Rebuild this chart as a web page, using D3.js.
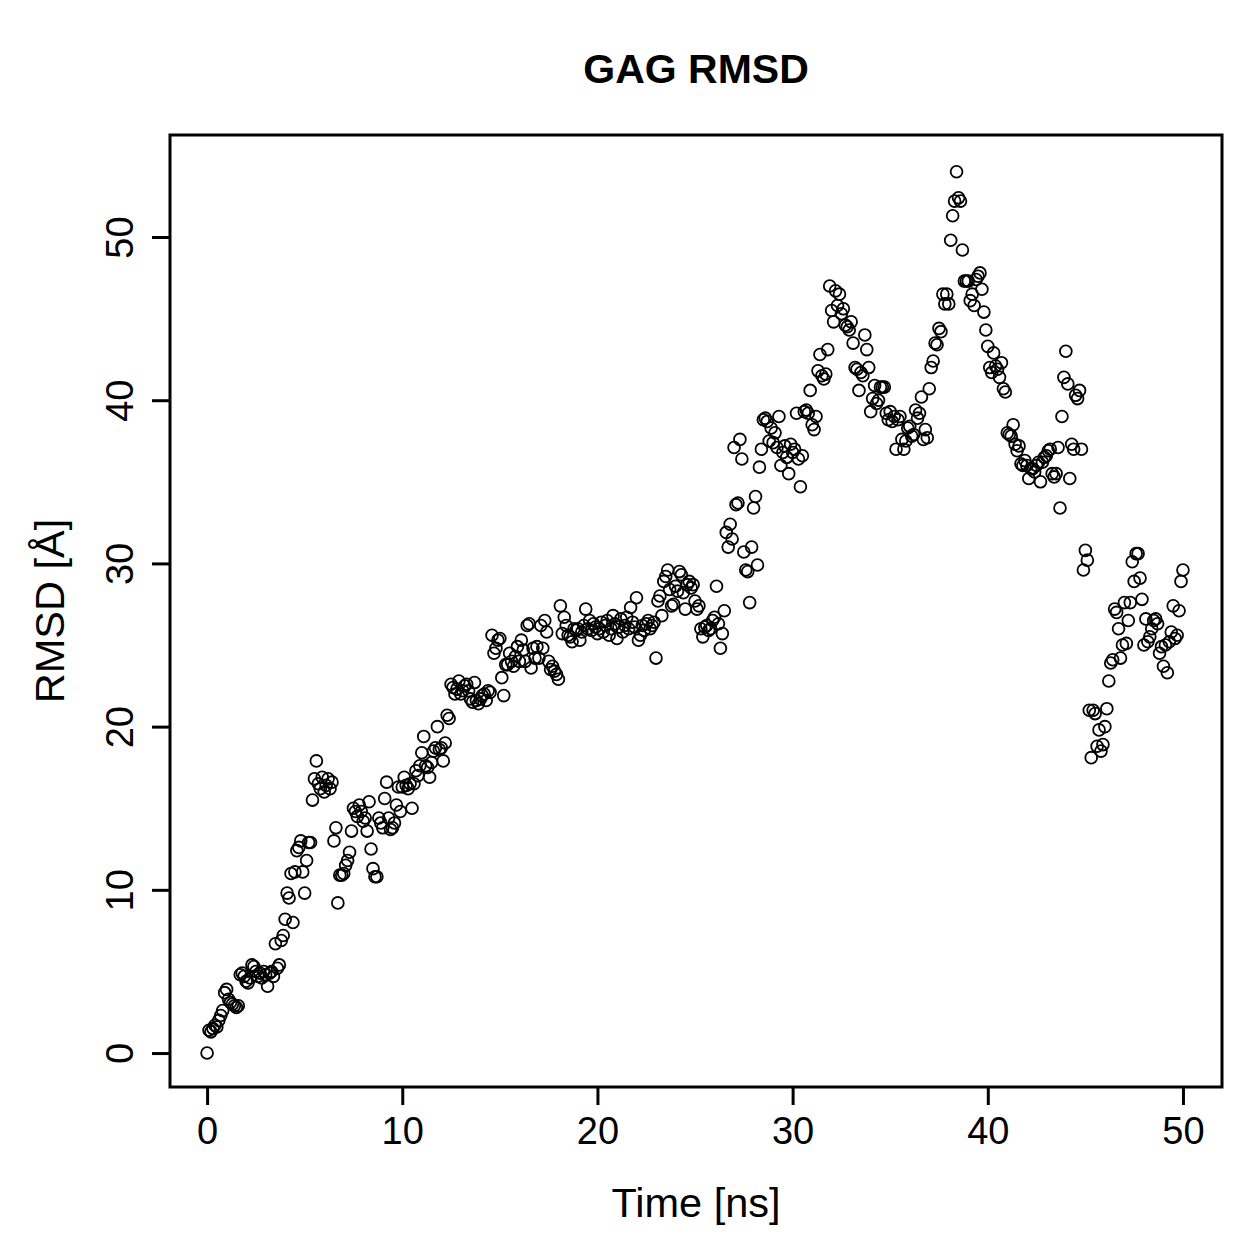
<!DOCTYPE html>
<html>
<head>
<meta charset="utf-8">
<script src="https://cdn.jsdelivr.net/npm/d3@7"></script>
<style>
  html, body { margin: 0; padding: 0; background: #fff; }
  svg { display: block; font-family: "Liberation Sans", Arial, Helvetica, sans-serif; }
</style>
</head>
<body>
<svg id="chart" width="1259" height="1259"></svg>
<script>
// ---- data ----
const title = "GAG RMSD";
const xLabel = "Time [ns]";
const yLabel = "RMSD [Å]";
const xTicks = [0, 10, 20, 30, 40, 50];
const yTicks = [0, 10, 20, 30, 40, 50];
const timeStep = 0.1; // ns between frames
// RMSD values (Å), one per frame, 0.0 .. 50.0 ns
const rmsd = [
  0.0, 1.4, 1.3, 1.5, 1.7, 1.6, 2.0, 2.3, 2.6, 3.7,
  3.9, 3.3, 3.1, 3.0, 2.9, 2.8, 2.9, 4.8, 4.9, 4.7,
  4.4, 4.3, 4.6, 5.4, 5.3, 5.0, 4.7, 4.9, 4.6, 5.0,
  4.8, 4.1, 4.9, 5.0, 4.7, 6.7, 5.2, 5.4, 6.9, 7.2,
  8.2, 9.8, 9.5, 11.0, 8.0, 11.1, 12.4, 12.6, 13.0, 11.1,
  9.8, 11.8, 12.9, 12.9, 15.5, 16.8, 17.9, 16.5, 16.2, 16.9,
  16.0, 16.4, 16.8, 16.2, 16.6, 13.0, 13.8, 9.2, 10.9, 10.9,
  11.0, 11.5, 11.8, 12.3, 13.6, 15.0, 14.8, 14.5, 15.2, 14.8,
  14.2, 14.4, 13.6, 15.4, 12.5, 11.3, 10.8, 10.8, 14.4, 14.1,
  13.8, 15.6, 16.6, 14.4, 13.7, 13.8, 14.1, 15.2, 16.3, 14.8,
  16.3, 16.9, 16.4, 16.2, 16.5, 15.0, 16.5, 17.3, 17.0, 17.6,
  18.4, 19.4, 17.6, 17.5, 16.9, 17.8, 18.5, 18.7, 20.0, 18.6,
  18.7, 17.9, 19.0, 20.7, 20.5, 22.6, 22.4, 22.0, 22.3, 22.8,
  22.0, 22.2, 22.5, 22.6, 22.2, 21.7, 21.5, 22.7, 21.6, 21.4,
  21.7, 21.9, 22.0, 21.6, 22.2, 22.1, 25.6, 24.5, 24.8, 25.3,
  25.4, 23.0, 21.9, 23.8, 23.8, 24.5, 24.0, 23.7, 24.3, 24.9,
  24.0, 25.3, 24.7, 24.0, 26.2, 26.3, 23.6, 24.8, 24.2, 24.9,
  24.2, 26.2, 24.8, 26.5, 25.8, 24.0, 23.5, 23.7, 23.4, 23.2,
  22.9, 27.4, 25.7, 26.7, 26.2, 25.6, 25.5, 25.2, 26.0, 25.9,
  26.0, 25.3, 25.8, 26.2, 27.2, 26.0, 26.5, 25.9, 26.3, 26.1,
  25.7, 26.0, 26.4, 25.8, 26.2, 26.5, 25.6, 26.0, 26.8, 26.3,
  25.4, 26.1, 26.6, 25.8, 26.2, 26.7, 26.0, 27.3, 26.4, 26.1,
  27.9, 25.3, 25.6, 26.2, 25.9, 26.3, 26.5, 26.0, 26.2, 26.4,
  24.2, 27.7, 28.0, 26.8, 28.9, 29.2, 29.6, 28.4, 27.4, 27.5,
  28.6, 28.3, 29.5, 29.3, 28.2, 27.2, 28.7, 28.9, 28.5, 28.7,
  27.7, 27.2, 27.4, 26.0, 25.5, 26.1, 26.2, 25.9, 26.0, 26.5,
  26.7, 28.6, 26.3, 24.8, 25.7, 27.1, 31.9, 31.0, 32.4, 31.5,
  37.1, 33.6, 33.7, 37.6, 36.4, 30.7, 29.6, 29.5, 27.6, 31.0,
  33.4, 34.1, 29.9, 35.9, 37.0, 38.8, 38.9, 38.7, 37.5, 38.3,
  37.4, 38.0, 37.1, 39.0, 36.0, 36.8, 37.2, 36.5, 35.5, 37.3,
  36.8, 37.0, 39.2, 36.4, 34.7, 36.6, 39.3, 39.4, 39.2, 40.6,
  38.5, 38.2, 39.0, 41.8, 42.8, 41.5, 41.3, 41.6, 43.1, 47.0,
  45.5, 44.8, 46.7, 45.8, 46.5, 45.3, 45.6, 44.6, 44.5, 44.3,
  44.8, 43.5, 42.0, 41.9, 40.6, 41.7, 41.5, 44.0, 43.1, 42.0,
  39.3, 40.1, 40.9, 39.8, 40.0, 40.8, 40.8, 40.8, 39.2, 38.8,
  39.3, 38.7, 39.0, 37.0, 38.8, 39.0, 37.6, 37.0, 37.5, 38.3,
  38.4, 37.8, 37.9, 39.4, 38.9, 39.2, 40.2, 37.6, 38.2, 37.7,
  40.7, 42.0, 42.4, 43.5, 43.4, 44.4, 44.2, 46.5, 45.9, 46.5,
  45.9, 49.8, 51.3, 52.2, 54.0, 52.4, 52.2, 49.2, 47.3, 47.3,
  47.3, 46.1, 46.5, 45.8, 47.4, 47.6, 47.8, 46.8, 45.4, 44.3,
  43.3, 42.0, 41.7, 42.9, 42.1, 41.9, 41.4, 42.3, 40.7, 40.5,
  38.0, 37.9, 37.8, 38.5, 37.3, 36.9, 37.2, 36.1, 36.0, 36.3,
  36.0, 35.2, 35.8, 35.8, 35.6, 36.0, 36.2, 35.0, 36.2, 36.5,
  36.6, 36.9, 37.0, 35.5, 35.3, 35.5, 37.1, 33.4, 39.0, 41.4,
  43.0, 41.0, 35.2, 37.3, 37.0, 40.3, 40.1, 40.6, 37.0, 29.6,
  30.8, 30.2, 21.0, 18.1, 21.0, 20.8, 18.8, 19.8, 18.5, 18.9,
  20.0, 21.1, 22.8, 23.9, 24.1, 27.2, 27.0, 26.0, 24.2, 25.0,
  27.6, 25.1, 26.5, 27.6, 30.1, 28.9, 30.6, 30.6, 29.1, 27.8,
  25.0, 26.6, 25.2, 25.5, 26.0, 26.5, 26.6, 26.3, 24.5, 24.9,
  23.7, 25.0, 23.3, 25.2, 25.8, 27.4, 25.4, 25.6, 27.1, 28.9,
  29.6
];
const points = rmsd.map((v, i) => ({ t: +(i * timeStep).toFixed(1), v }));

// ---- layout ----
const svg = d3.select("#chart");
const box = { left: 170, right: 1222, top: 135, bottom: 1087 };
const x = d3.scaleLinear().domain([-1.9, 52.0]).range([box.left, box.right]);
const y = d3.scaleLinear().domain([-2.08, 56.25]).range([box.bottom, box.top]);
const tickFont = 38;
const labelFont = 41.5;
const titleFont = 41;

svg.append("rect").attr("width", 1259).attr("height", 1259).attr("fill", "#fff");

// points
svg.append("g")
  .selectAll("circle")
  .data(points)
  .join("circle")
  .attr("cx", d => x(d.t))
  .attr("cy", d => y(d.v))
  .attr("r", 5.9)
  .attr("fill", "none")
  .attr("stroke", "#000")
  .attr("stroke-width", 1.8);

// box
svg.append("rect")
  .attr("x", box.left).attr("y", box.top)
  .attr("width", box.right - box.left).attr("height", box.bottom - box.top)
  .attr("fill", "none").attr("stroke", "#000").attr("stroke-width", 3);

// x axis
const xAxis = d3.axisBottom(x).tickValues(xTicks).tickSize(18).tickPadding(12).tickFormat(d3.format("d"));
const gx = svg.append("g").attr("transform", `translate(0,${box.bottom})`).call(xAxis);
gx.select(".domain").remove();
gx.selectAll(".tick line").attr("stroke", "#000").attr("stroke-width", 3);
gx.selectAll(".tick text")
  .attr("font-size", tickFont).attr("font-family", "Liberation Sans, Arial, sans-serif")
  .attr("fill", "#000");

// y axis
const yAxis = d3.axisLeft(y).tickValues(yTicks).tickSize(18).tickPadding(0).tickFormat(d3.format("d"));
const gy = svg.append("g").attr("transform", `translate(${box.left},0)`).call(yAxis);
gy.select(".domain").remove();
gy.selectAll(".tick line").attr("stroke", "#000").attr("stroke-width", 3);
gy.selectAll(".tick text")
  .attr("x", null).attr("dy", null)
  .attr("transform", "translate(-37,0) rotate(-90)")
  .attr("text-anchor", "middle")
  .attr("font-size", tickFont).attr("font-family", "Liberation Sans, Arial, sans-serif")
  .attr("fill", "#000");

// labels
svg.append("text")
  .attr("x", (box.left + box.right) / 2).attr("y", 1217)
  .attr("text-anchor", "middle").attr("font-size", labelFont)
  .text(xLabel);

svg.append("text")
  .attr("transform", `translate(64,${(box.top + box.bottom) / 2}) rotate(-90)`)
  .attr("text-anchor", "middle").attr("font-size", labelFont)
  .text(yLabel);

svg.append("text")
  .attr("x", (box.left + box.right) / 2).attr("y", 83)
  .attr("text-anchor", "middle").attr("font-size", titleFont)
  .attr("font-weight", "bold")
  .text(title);
</script>
</body>
</html>
